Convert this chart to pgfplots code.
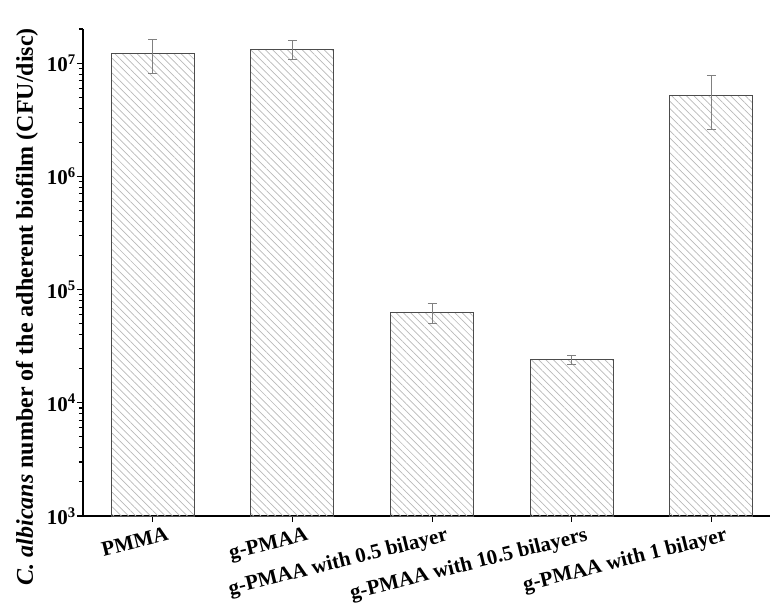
\documentclass[border=0pt]{standalone}
\usepackage{fontspec}
\setmainfont{Liberation Serif}
\usepackage{pgfplots}
\pgfplotsset{compat=1.18}
\usetikzlibrary{patterns.meta}
\begin{document}
\begin{tikzpicture}
\begin{axis}[
  scale only axis, width=687pt, height=487pt,
  ymode=log, log origin=infty,
  ymin=1e3, ymax=2e7,
  xmin=-0.5, xmax=4.42,
  axis lines*=left,
  axis line style={line width=1.3pt, black},
  tick style={line width=1.1pt, black},
  tick align=outside, major tick length=6pt, minor tick length=4pt,
  xtick={0,1,2,3,4},
  xticklabels={PMMA, g-PMAA, g-PMAA with 0.5 bilayer, g-PMAA with 10.5 bilayers, g-PMAA with 1 bilayer},
  x tick label style={xshift=14pt, yshift=-3pt, rotate=14, anchor=north east, font=\fontsize{21}{24}\selectfont\bfseries, inner sep=1pt},
  ytick={1e3,1e4,1e5,1e6,1e7},
  yticklabels={\textbf{10}\textsuperscript{\textbf{3}},\textbf{10}\textsuperscript{\textbf{4}},\textbf{10}\textsuperscript{\textbf{5}},\textbf{10}\textsuperscript{\textbf{6}},\textbf{10}\textsuperscript{\textbf{7}}},
  minor ytick={2e3,3e3,4e3,5e3,6e3,7e3,8e3,9e3,2e4,3e4,4e4,5e4,6e4,7e4,8e4,9e4,2e5,3e5,4e5,5e5,6e5,7e5,8e5,9e5,2e6,3e6,4e6,5e6,6e6,7e6,8e6,9e6,2e7},
  y tick label style={font=\fontsize{21}{24}\selectfont\bfseries, inner sep=1pt},
  ylabel={\textbf{\textit{C. albicans} number of the adherent biofilm (CFU/disc)}},
  ylabel style={at={(axis description cs:-0.0815,0.43)}, anchor=center, rotate=0, font=\fontsize{24}{28}\selectfont},
  bar width=0.595,
  clip=false,
]
\coordinate (sw) at (rel axis cs:0,0);
\addplot[ybar, draw=black!70, line width=1pt,
  pattern={Lines[angle=-45,distance=5.2pt,line width=0.7pt]}, pattern color=black!28,
  error bars/.cd, y dir=both, y explicit,
  error bar style={black!50, line width=0.9pt},
  error mark options={rotate=90, mark size=4.5pt, black!50, line width=0.9pt}]
coordinates {
(0,1.22e7) +- (0,4.1e6)
(1,1.33e7) +- (0,2.6e6)
(2,6.3e4) +- (0,1.25e4)
(3,2.39e4) +- (0,2.2e3)
(4,5.22e6) +- (0,2.6e6)
};
\end{axis}
\pgfresetboundingbox
\path (sw) ++(-83pt,-92pt) rectangle ++(770pt,608pt);
\end{tikzpicture}
\end{document}
